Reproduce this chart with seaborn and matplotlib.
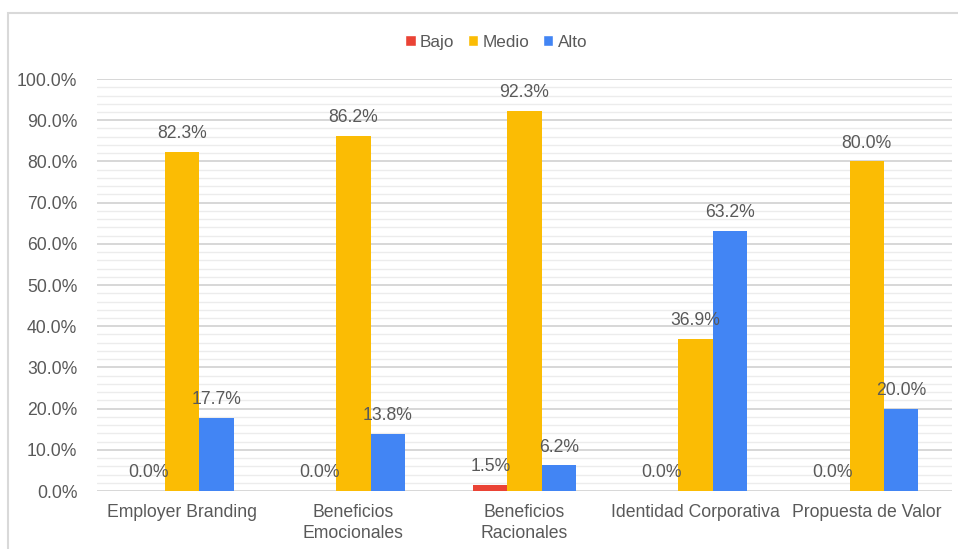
import matplotlib
matplotlib.use("Agg")
import matplotlib.pyplot as plt
from matplotlib.patches import Rectangle
from matplotlib.ticker import MultipleLocator, FuncFormatter
import seaborn as sns
import pandas as pd

categorias = ["Employer Branding", "Beneficios\nEmocionales", "Beneficios\nRacionales",
              "Identidad Corporativa", "Propuesta de Valor"]
niveles = ["Bajo", "Medio", "Alto"]
bajo = [0.0, 0.0, 1.5, 0.0, 0.0]
medio = [82.3, 86.2, 92.3, 36.9, 80.0]
alto = [17.7, 13.8, 6.2, 63.2, 20.0]
colores = ["#EA4335", "#FBBC04", "#4285F4"]

df = pd.DataFrame({
    "categoria": categorias * 3,
    "nivel": [n for n in niveles for _ in categorias],
    "valor": bajo + medio + alto,
})

sns.set_theme(style="white")
plt.rcParams["font.family"] = ["Liberation Sans", "DejaVu Sans"]
texto = "#595959"
fs = 12.7

fig = plt.figure(figsize=(9.58, 5.49), dpi=100)
ax = fig.add_axes([0.101, 0.1056, 0.893, 0.7504])

sns.barplot(data=df, x="categoria", y="valor", hue="nivel", order=categorias,
            hue_order=niveles, palette=colores, saturation=1, width=0.6,
            linewidth=0, ax=ax, legend=False)

ax.set_ylim(0, 100)
ax.set_xlim(-0.5, len(categorias) - 0.5)
ax.yaxis.set_major_locator(MultipleLocator(10))
ax.yaxis.set_minor_locator(MultipleLocator(2))
ax.yaxis.set_major_formatter(FuncFormatter(lambda v, p: f"{v:.1f}%"))
ax.grid(axis="y", which="major", color="#d4d4d4", linewidth=1.3)
ax.grid(axis="y", which="minor", color="#ececec", linewidth=1.0)
ax.set_axisbelow(True)
for s in ax.spines.values():
    s.set_visible(False)
ax.tick_params(axis="y", which="both", length=0, labelsize=fs, labelcolor=texto, pad=14)
ax.tick_params(axis="x", length=0, labelsize=fs, labelcolor=texto, pad=9)
for lbl in ax.get_xticklabels():
    lbl.set_linespacing(1.35)
ax.set_xlabel("")
ax.set_ylabel("")

for cont in ax.containers:
    ax.bar_label(cont, fmt="%.1f%%", padding=7, fontsize=fs, color=texto)

handles = [Rectangle((0, 0), 1, 1, facecolor=c) for c in colores]
fig.legend(handles, niveles, loc="center", bbox_to_anchor=(0.518, 0.923), ncol=3,
           frameon=False, fontsize=12.3, labelcolor=texto, handlelength=0.6,
           handleheight=0.6, handletextpad=0.25, columnspacing=0.8)

fig.patches.append(Rectangle((8 / 958, -0.1), 1.2, 1 - 13 / 549 + 0.1,
                             transform=fig.transFigure, fill=False,
                             edgecolor="#d9d9d9", linewidth=1.5))

fig.savefig("out.png", dpi=100)
